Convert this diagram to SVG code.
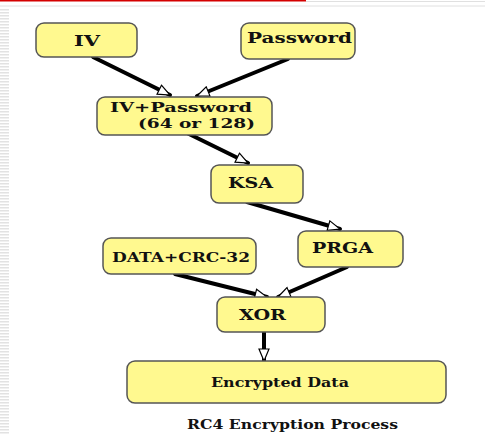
<svg xmlns="http://www.w3.org/2000/svg" width="485" height="435" viewBox="0 0 485 435">
<defs>
<pattern id="stripes" x="0" y="0" width="10" height="3" patternUnits="userSpaceOnUse">
<rect x="0" y="0" width="10" height="1.5" fill="#e2e2e2"/>
</pattern>
<marker id="arr" markerUnits="userSpaceOnUse" markerWidth="14" markerHeight="12" refX="13" refY="6" orient="auto">
<path d="M1,1 L13,6 L1,11 Z" fill="#fff" stroke="#000" stroke-width="1.2"/>
</marker>
</defs>
<style>
.box{fill:#fff98f;stroke:#555;stroke-width:1.5}
.t{font-family:"DejaVu Serif","Liberation Serif",serif;font-weight:bold;fill:#111}
.c{stroke:#000;stroke-width:4;fill:none;stroke-linecap:round}
</style>
<rect width="485" height="435" fill="#fff"/>
<rect x="0" y="8" width="9" height="427" fill="url(#stripes)"/>
<line x1="0" y1="0.5" x2="306" y2="0.5" stroke="#d40000" stroke-width="2"/>
<line x1="306" y1="1.5" x2="485" y2="1.5" stroke="#e0e0e0" stroke-width="1"/>
<line x1="0" y1="6" x2="485" y2="6" stroke="#e0e0e0" stroke-width="1"/>

<g id="connectors">
<line class="c" x1="93" y1="57" x2="170" y2="95" marker-end="url(#arr)"/>
<line class="c" x1="288" y1="59" x2="197" y2="96" marker-end="url(#arr)"/>
<line class="c" x1="187" y1="133" x2="248" y2="163" marker-end="url(#arr)"/>
<line class="c" x1="247" y1="202" x2="340" y2="229" marker-end="url(#arr)"/>
<line class="c" x1="175" y1="274" x2="267" y2="297" marker-end="url(#arr)"/>
<line class="c" x1="347" y1="267" x2="278" y2="297" marker-end="url(#arr)"/>
<line class="c" x1="264" y1="332" x2="264" y2="361" marker-end="url(#arr)"/>
</g>

<g id="iv">
<rect class="box" x="36" y="23" width="101" height="34" rx="8"/>
<text class="t" x="74" y="46" font-size="15" textLength="26" lengthAdjust="spacingAndGlyphs">IV</text>
</g>
<g id="password">
<rect class="box" x="241" y="23" width="114" height="36" rx="8"/>
<text class="t" x="247" y="43" font-size="15" textLength="105" lengthAdjust="spacingAndGlyphs">Password</text>
</g>
<g id="ivpassword">
<rect class="box" x="97" y="97" width="175" height="38" rx="8"/>
<text class="t" x="110" y="112" font-size="13.5" textLength="142" lengthAdjust="spacingAndGlyphs">IV+Password</text>
<text class="t" x="138" y="128" font-size="13.5" textLength="117" lengthAdjust="spacingAndGlyphs">(64 or 128)</text>
</g>
<g id="ksa">
<rect class="box" x="211" y="165" width="92" height="38" rx="8"/>
<text class="t" x="228" y="188" font-size="14" textLength="45" lengthAdjust="spacingAndGlyphs">KSA</text>
</g>
<g id="prga">
<rect class="box" x="298" y="231" width="105" height="36" rx="8"/>
<text class="t" x="312" y="253" font-size="14" textLength="61" lengthAdjust="spacingAndGlyphs">PRGA</text>
</g>
<g id="datacrc">
<rect class="box" x="103" y="238" width="153" height="36" rx="8"/>
<text class="t" x="112" y="262" font-size="13" textLength="138" lengthAdjust="spacingAndGlyphs">DATA+CRC-32</text>
</g>
<g id="xor">
<rect class="box" x="217" y="297" width="108" height="35" rx="8"/>
<text class="t" x="239" y="320" font-size="14" textLength="47" lengthAdjust="spacingAndGlyphs">XOR</text>
</g>
<g id="encrypted">
<rect class="box" x="127" y="361" width="319" height="42" rx="8"/>
<text class="t" x="211" y="387" font-size="13" textLength="138" lengthAdjust="spacingAndGlyphs">Encrypted Data</text>
</g>
<text class="t" x="187" y="429" font-size="13" textLength="211" lengthAdjust="spacingAndGlyphs">RC4 Encryption Process</text>
</svg>
